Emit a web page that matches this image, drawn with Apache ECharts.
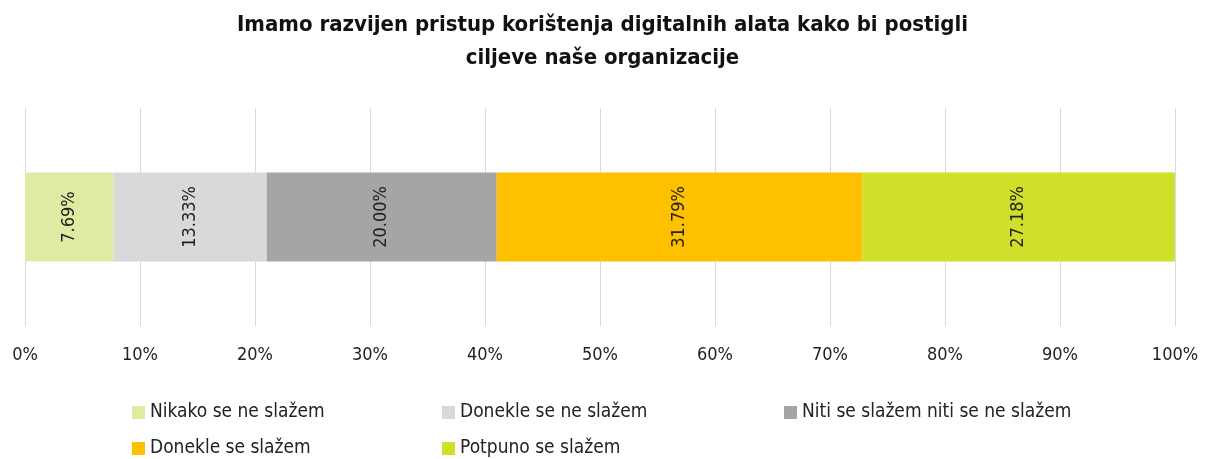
<!DOCTYPE html>
<html lang="hr">
<head>
    <meta charset="UTF-8">
    <title>Digitalni alati</title>
    <script src="https://cdnjs.cloudflare.com/ajax/libs/echarts/6.0.0/echarts.min.js"></script>
    <style>
        html, body {margin: 0; padding: 0; background: #fff;}
    </style>
</head>
<body>
<div id="chart" style="width: 1205px; height: 459px;"></div>

<script>
    var categories = ['Q'];
    var seriesNames = ['Nikako se ne slažem', 'Donekle se ne slažem', 'Niti se slažem niti se ne slažem', 'Donekle se slažem', 'Potpuno se slažem'];
    var seriesValues = [7.69, 13.33, 20.00, 31.79, 27.18];
    var seriesColors = ['#DFEBA2', '#D9D9D9', '#A5A5A5', '#FFC000', '#D0DF2A'];
    var tickLabels = ['0%', '10%', '20%', '30%', '40%', '50%', '60%', '70%', '80%', '90%', '100%'];

    var font = '"DejaVu Sans Condensed", "Roboto", sans-serif';

    var chart = echarts.init(document.getElementById('chart'));

    var series = seriesNames.map(function (name, i) {
        return {
            name: name,
            type: 'bar',
            stack: 'total',
            barWidth: 89,
            itemStyle: {color: seriesColors[i]},
            label: {
                show: true,
                position: 'inside',
                rotate: 90,
                fontFamily: font,
                fontSize: 18,
                color: '#222',
                formatter: function (p) { return p.value.toFixed(2) + '%'; }
            },
            data: [seriesValues[i]]
        };
    });

    // legend placement: [left, top] for each series
    var legendPos = [[127, 398], [437, 398], [779, 398], [127, 434], [437, 434]];
    var legends = seriesNames.map(function (name, i) {
        return {
            left: legendPos[i][0],
            top: legendPos[i][1],
            data: [name],
            itemWidth: 13,
            itemHeight: 13,
            icon: 'rect',
            textStyle: {fontFamily: font, fontSize: 19, color: '#222'}
        };
    });

    var option = {
        animation: false,
        title: {
            text: 'Imamo razvijen pristup korištenja digitalnih alata kako bi postigli\nciljeve naše organizacije',
            left: 'center',
            top: 4,
            textStyle: {fontFamily: font, fontSize: 22, fontWeight: 'bold', color: '#111', lineHeight: 33}
        },
        legend: legends,
        grid: {left: 25, right: 30, top: 108, height: 218, containLabel: false},
        xAxis: {
            type: 'value',
            min: 0,
            max: 100,
            interval: 10,
            axisLine: {show: false},
            axisTick: {show: false},
            splitLine: {lineStyle: {color: '#D9D9D9', width: 1}},
            axisLabel: {
                margin: 20,
                fontFamily: font,
                fontSize: 18,
                color: '#222',
                formatter: function (v) { return tickLabels[Math.round(v / 10)]; }
            }
        },
        yAxis: {
            type: 'category',
            data: categories,
            axisLine: {show: false},
            axisTick: {show: false},
            axisLabel: {show: false}
        },
        series: series
    };

    chart.setOption(option);
</script>
</body>
</html>
